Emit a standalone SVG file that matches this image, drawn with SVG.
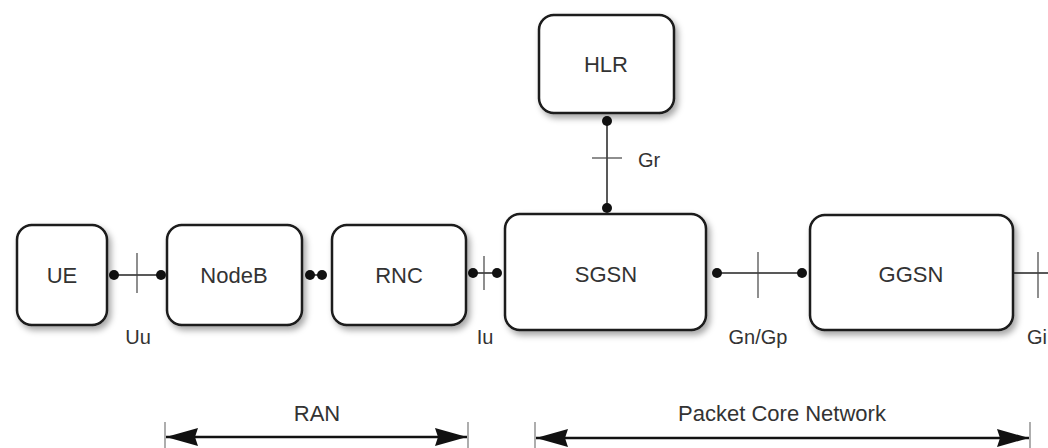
<svg xmlns="http://www.w3.org/2000/svg" width="1048" height="448" viewBox="0 0 1048 448">
<defs>
<filter id="sh" x="-20%" y="-20%" width="150%" height="150%">
<feDropShadow dx="3" dy="4" stdDeviation="3" flood-color="#000" flood-opacity="0.35"/>
</filter>
<marker id="ah" viewBox="0 0 32 18" refX="32" refY="9" markerWidth="32" markerHeight="18" markerUnits="userSpaceOnUse" orient="auto-start-reverse">
<path d="M0,0 L32,9 L0,18 L3,9 Z" fill="#111"/>
</marker>
</defs>
<style>
.box{fill:#fff;stroke:#1a1a1a;stroke-width:2.5;filter:url(#sh)}
.t{font-family:"Liberation Sans",Arial,sans-serif;font-size:22px;fill:#333;text-anchor:middle}
.l{font-family:"Liberation Sans",Arial,sans-serif;font-size:20px;fill:#333}
.ln{stroke:#222;stroke-width:1.5;fill:none}
.tk{stroke:#444;stroke-width:1.2}
.dot{fill:#111}
.arr{stroke:#111;stroke-width:2.5;fill:none}
.bd{stroke:#777;stroke-width:1.2}
</style>
<rect width="1048" height="448" fill="#fff"/>
<g id="connectors">
<line class="ln" x1="114" y1="275" x2="161" y2="275"/>
<line class="tk" x1="137" y1="253" x2="137" y2="293"/>
<line class="ln" x1="310" y1="275" x2="322" y2="275"/>
<line class="ln" x1="473" y1="273" x2="497" y2="273"/>
<line class="tk" x1="484" y1="256" x2="484" y2="290"/>
<line class="ln" x1="717" y1="273" x2="802" y2="273"/>
<line class="tk" x1="758" y1="252" x2="758" y2="298"/>
<line class="ln" x1="1013" y1="273" x2="1048" y2="273"/>
<line class="tk" x1="1038" y1="252" x2="1038" y2="298"/>
<line class="ln" x1="607" y1="121" x2="607" y2="208"/>
<line class="tk" x1="592" y1="158" x2="622" y2="158"/>
<circle class="dot" cx="114" cy="275" r="5"/>
<circle class="dot" cx="161" cy="275" r="5"/>
<circle class="dot" cx="310" cy="275" r="5"/>
<circle class="dot" cx="322" cy="275" r="5"/>
<circle class="dot" cx="473" cy="273" r="5"/>
<circle class="dot" cx="497" cy="273" r="5"/>
<circle class="dot" cx="717" cy="273" r="5"/>
<circle class="dot" cx="802" cy="273" r="5"/>
<circle class="dot" cx="607" cy="121" r="5"/>
<circle class="dot" cx="607" cy="208" r="5"/>
<text class="l" x="138" y="344" text-anchor="middle">Uu</text>
<text class="l" x="485" y="344" text-anchor="middle">Iu</text>
<text class="l" x="758" y="344" text-anchor="middle">Gn/Gp</text>
<text class="l" x="1027" y="344">Gi</text>
<text class="l" x="638" y="167">Gr</text>
</g>
<g id="UE"><rect class="box" x="17" y="225" width="90" height="100" rx="15"/><text class="t" x="62" y="283">UE</text></g>
<g id="NodeB"><rect class="box" x="167" y="225" width="135" height="100" rx="15"/><text class="t" x="234" y="283">NodeB</text></g>
<g id="RNC"><rect class="box" x="332" y="225" width="134" height="100" rx="15"/><text class="t" x="399" y="283">RNC</text></g>
<g id="SGSN"><rect class="box" x="505" y="214" width="201" height="116" rx="15"/><text class="t" x="606" y="282">SGSN</text></g>
<g id="GGSN"><rect class="box" x="810" y="215" width="203" height="115" rx="15"/><text class="t" x="911" y="282">GGSN</text></g>
<g id="HLR"><rect class="box" x="539" y="15" width="135" height="98" rx="15"/><text class="t" x="606" y="72">HLR</text></g>
<g id="RAN">
<line class="bd" x1="165" y1="422" x2="165" y2="448"/>
<line class="bd" x1="468" y1="422" x2="468" y2="448"/>
<line class="arr" x1="166" y1="437" x2="467" y2="437" marker-start="url(#ah)" marker-end="url(#ah)"/>
<text class="t" x="317" y="421">RAN</text>
</g>
<g id="PacketCore">
<line class="bd" x1="535" y1="422" x2="535" y2="448"/>
<line class="bd" x1="1030" y1="422" x2="1030" y2="448"/>
<line class="arr" x1="536" y1="438" x2="1029" y2="438" marker-start="url(#ah)" marker-end="url(#ah)"/>
<text class="t" x="782" y="421">Packet Core Network</text>
</g>
</svg>
